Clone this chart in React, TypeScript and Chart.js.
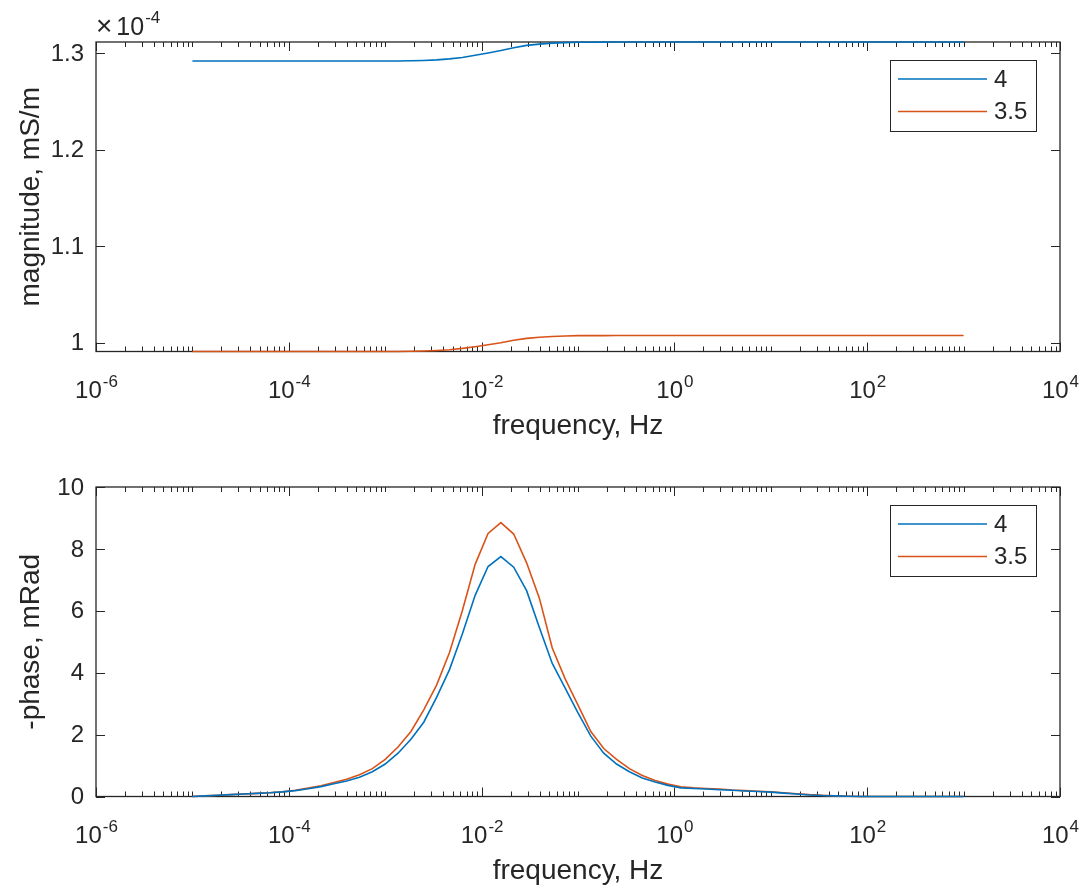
import React, { useEffect, useRef } from 'react';
import { Chart, registerables } from 'chart.js';

Chart.register(...registerables);

// ---------- data ----------
const logFreq = [
  -5.0, -4.867, -4.733, -4.6, -4.467, -4.333, -4.2, -4.067, -3.933, -3.8,
  -3.667, -3.533, -3.4, -3.267, -3.133, -3.0, -2.867, -2.733, -2.6, -2.467,
  -2.333, -2.2, -2.067, -1.933, -1.8, -1.667, -1.533, -1.4, -1.267, -1.133,
  -1.0, -0.867, -0.733, -0.6, -0.467, -0.333, -0.2, -0.067, 0.067, 0.2,
  0.333, 0.467, 0.6, 0.733, 0.867, 1.0, 1.133, 1.267, 1.4, 1.533,
  1.667, 1.8, 1.933, 2.067, 2.2, 2.333, 2.467, 2.6, 2.733, 2.867, 3.0,
];

const seriesLabels = ['4', '3.5'];
const seriesColors = ['#0072BD', '#D95319'];

// magnitude in units of 1e-4 mS/m
const magnitude4 = [
  1.2917, 1.2917, 1.2917, 1.2917, 1.2917, 1.2917, 1.2917, 1.2917, 1.2917, 1.2917,
  1.2917, 1.2917, 1.2917, 1.2917, 1.2917, 1.2917, 1.2917, 1.2919, 1.2923, 1.2929,
  1.2939, 1.2954, 1.2976, 1.3, 1.3025, 1.3055, 1.3079, 1.3092, 1.3102, 1.3108,
  1.3111, 1.3112, 1.3113, 1.3114, 1.3114, 1.3114, 1.3114, 1.3114, 1.3114, 1.3114,
  1.3114, 1.3114, 1.3114, 1.3114, 1.3114, 1.3114, 1.3114, 1.3114, 1.3114, 1.3114,
  1.3114, 1.3114, 1.3114, 1.3114, 1.3114, 1.3114, 1.3114, 1.3114, 1.3114, 1.3114, 1.3114,
];
const magnitude35 = [
  0.9907, 0.9907, 0.9907, 0.9907, 0.9907, 0.9907, 0.9907, 0.9907, 0.9907, 0.9907,
  0.9907, 0.9907, 0.9907, 0.9907, 0.9907, 0.9907, 0.9907, 0.9909, 0.9912, 0.9917,
  0.9925, 0.9939, 0.9957, 0.9977, 0.9998, 1.0023, 1.0043, 1.0055, 1.0063, 1.0068,
  1.0071, 1.0071, 1.0072, 1.0073, 1.0073, 1.0073, 1.0073, 1.0073, 1.0073, 1.0073,
  1.0073, 1.0073, 1.0073, 1.0073, 1.0073, 1.0073, 1.0073, 1.0073, 1.0073, 1.0073,
  1.0073, 1.0073, 1.0073, 1.0073, 1.0073, 1.0073, 1.0073, 1.0073, 1.0073, 1.0073, 1.0073,
];

// -phase in mRad
const phase4 = [
  0.0, 0.02, 0.04, 0.06, 0.08, 0.1, 0.12, 0.15, 0.19, 0.25,
  0.32, 0.41, 0.5, 0.62, 0.8, 1.05, 1.4, 1.85, 2.4, 3.2,
  4.1, 5.25, 6.5, 7.43, 7.75, 7.41, 6.65, 5.45, 4.3, 3.5,
  2.7, 1.95, 1.4, 1.05, 0.8, 0.6, 0.47, 0.36, 0.28, 0.26,
  0.24, 0.22, 0.2, 0.18, 0.16, 0.14, 0.11, 0.08, 0.05, 0.03,
  0.02, 0.01, 0.0, 0.0, 0.0, 0.0, 0.0, 0.0, 0.0, 0.0, 0.0,
];
const phase35 = [
  0.0, 0.02, 0.04, 0.06, 0.08, 0.1, 0.12, 0.15, 0.2, 0.27,
  0.35, 0.45, 0.56, 0.7, 0.9, 1.2, 1.6, 2.1, 2.8, 3.6,
  4.65, 6.0, 7.5, 8.5, 8.85, 8.48, 7.55, 6.4, 4.8, 3.8,
  2.95, 2.1, 1.55, 1.2, 0.9, 0.68, 0.52, 0.4, 0.31, 0.28,
  0.26, 0.24, 0.21, 0.19, 0.17, 0.15, 0.12, 0.09, 0.06, 0.04,
  0.02, 0.01, 0.0, 0.0, 0.0, 0.0, 0.0, 0.0, 0.0, 0.0, 0.0,
];

const xLabelExponents = [-6, -4, -2, 0, 2, 4];
const magTicks = [1, 1.1, 1.2, 1.3];
const magTickLabels = ['1', '1.1', '1.2', '1.3'];
const phaseTicks = [0, 2, 4, 6, 8, 10];
const phaseTickLabels = ['0', '2', '4', '6', '8', '10'];

// ---------- styling ----------
const FONT = '"Liberation Sans", Arial, Helvetica, sans-serif';
const AX = '#262626';
const W = 1085;
const H = 445;

type PanelCfg = {
  yMin: number;
  yMax: number;
  yTicks: number[];
  yTickLabels: string[];
  yTitle: string;
  xTitle: string;
  series: number[][];
  exponentLabel?: string;
};

function makePlugin(cfg: PanelCfg) {
  return {
    id: 'matlabAxes',
    beforeDatasetsDraw(chart: any) {
      const ctx = chart.ctx as CanvasRenderingContext2D;
      const { left, right, top, bottom } = chart.chartArea;
      const xs = chart.scales.x;
      const ys = chart.scales.y;
      ctx.save();
      ctx.strokeStyle = AX;
      ctx.lineWidth = 1.3;
      ctx.strokeRect(left, top, right - left, bottom - top);

      const seg = (x1: number, y1: number, x2: number, y2: number) => {
        ctx.beginPath();
        ctx.moveTo(x1, y1);
        ctx.lineTo(x2, y2);
        ctx.stroke();
      };
      ctx.lineWidth = 1;
      // x ticks (log)
      for (let e = -6; e <= 4; e++) {
        for (let m = 1; m < 10; m++) {
          if (e === 4 && m > 1) break;
          const v = m * Math.pow(10, e);
          const px = Math.round(xs.getPixelForValue(v)) + 0.5;
          const major = m === 1 && xLabelExponents.includes(e);
          const len = major ? 9 : 5;
          seg(px, bottom, px, bottom - len);
          seg(px, top, px, top + len);
        }
      }
      // y ticks
      cfg.yTicks.forEach((v) => {
        const py = Math.round(ys.getPixelForValue(v)) + 0.5;
        seg(left, py, left + 9, py);
        seg(right, py, right - 9, py);
      });

      ctx.fillStyle = AX;
      // y tick labels
      ctx.font = `24px ${FONT}`;
      ctx.textAlign = 'right';
      ctx.textBaseline = 'middle';
      cfg.yTicks.forEach((v, i) => {
        const py = ys.getPixelForValue(v);
        ctx.fillText(cfg.yTickLabels[i], left - 12, py + 1);
      });

      // x tick labels 10^n
      ctx.textBaseline = 'alphabetic';
      ctx.textAlign = 'left';
      xLabelExponents.forEach((e) => {
        const px = xs.getPixelForValue(Math.pow(10, e));
        ctx.font = `24px ${FONT}`;
        const wBase = ctx.measureText('10').width;
        ctx.font = `17px ${FONT}`;
        const expStr = String(e);
        const wExp = ctx.measureText(expStr).width;
        const x0 = px - (wBase + wExp) / 2;
        ctx.font = `24px ${FONT}`;
        ctx.fillText('10', x0, bottom + 46);
        ctx.font = `17px ${FONT}`;
        ctx.fillText(expStr, x0 + wBase + 1, bottom + 35);
      });

      // x title
      ctx.font = `28px ${FONT}`;
      ctx.textAlign = 'center';
      ctx.fillText(cfg.xTitle, (left + right) / 2, bottom + 82);

      // y title
      ctx.save();
      ctx.translate(31, (top + bottom) / 2);
      ctx.rotate(-Math.PI / 2);
      ctx.textBaseline = 'middle';
      ctx.textAlign = 'center';
      ctx.fillText(cfg.yTitle, 0, 0);
      ctx.restore();

      // exponent label
      if (cfg.exponentLabel) {
        ctx.textAlign = 'left';
        ctx.font = `28px ${FONT}`;
        ctx.fillText('\u00d7', left, top - 7);
        const wx = ctx.measureText('\u00d7').width;
        ctx.font = `25px ${FONT}`;
        ctx.fillText('10', left + wx + 4, top - 7);
        const w10 = ctx.measureText('10').width;
        ctx.font = `17px ${FONT}`;
        ctx.fillText(cfg.exponentLabel, left + wx + 4 + w10 + 1, top - 19);
      }
      ctx.restore();
    },
    afterDraw(chart: any) {
      const ctx = chart.ctx as CanvasRenderingContext2D;
      const { top } = chart.chartArea;
      ctx.save();
      const bx = 890.5;
      const by = top + 18.5;
      const bw = 146;
      const bh = 71;
      ctx.fillStyle = '#ffffff';
      ctx.fillRect(bx, by, bw, bh);
      ctx.strokeStyle = AX;
      ctx.lineWidth = 1;
      ctx.strokeRect(bx, by, bw, bh);
      const rows = [top + 37, top + 69.5];
      chart.data.datasets.forEach((ds: any, i: number) => {
        const y = rows[i];
        ctx.strokeStyle = ds.borderColor;
        ctx.lineWidth = 1.5;
        ctx.beginPath();
        ctx.moveTo(898, y);
        ctx.lineTo(987, y);
        ctx.stroke();
        ctx.fillStyle = AX;
        ctx.font = `24px ${FONT}`;
        ctx.textAlign = 'left';
        ctx.textBaseline = 'middle';
        ctx.fillText(ds.label, 994, y + 1);
      });
      ctx.restore();
    },
  };
}

function Panel({ cfg }: { cfg: PanelCfg }) {
  const ref = useRef<HTMLCanvasElement | null>(null);
  useEffect(() => {
    if (!ref.current) return;
    const freqs = logFreq.map((e) => Math.pow(10, e));
    const chart = new Chart(ref.current, {
      type: 'line',
      data: {
        datasets: cfg.series.map((vals, i) => ({
          label: seriesLabels[i],
          data: freqs.map((f, j) => ({ x: f, y: vals[j] })),
          borderColor: seriesColors[i],
          backgroundColor: seriesColors[i],
          borderWidth: 1.6,
          pointRadius: 0,
          tension: 0,
          fill: false,
          clip: false as any,
        })),
      },
      options: {
        responsive: false,
        animation: false,
        devicePixelRatio: 1,
        layout: { padding: { left: 0, right: W - 1060, top: 42, bottom: 0 } },
        plugins: { legend: { display: false }, tooltip: { enabled: false } },
        scales: {
          x: {
            type: 'logarithmic',
            min: 1e-6,
            max: 1e4,
            ticks: { display: false },
            grid: { display: false },
            border: { display: false },
            afterFit: (s: any) => {
              s.height = 93.5;
            },
          },
          y: {
            type: 'linear',
            min: cfg.yMin,
            max: cfg.yMax,
            ticks: { display: false },
            grid: { display: false },
            border: { display: false },
            afterFit: (s: any) => {
              s.width = 96;
            },
          },
        },
      } as any,
      plugins: [makePlugin(cfg) as any],
    });
    return () => chart.destroy();
  }, [cfg]);
  return <canvas ref={ref} width={W} height={H} style={{ display: 'block', width: W, height: H }} />;
}

const topCfg: PanelCfg = {
  yMin: 0.9907,
  yMax: 1.3114,
  yTicks: magTicks,
  yTickLabels: magTickLabels,
  yTitle: 'magnitude, mS/m',
  xTitle: 'frequency, Hz',
  series: [magnitude4, magnitude35],
  exponentLabel: '-4',
};

const bottomCfg: PanelCfg = {
  yMin: 0,
  yMax: 10,
  yTicks: phaseTicks,
  yTickLabels: phaseTickLabels,
  yTitle: '-phase, mRad',
  xTitle: 'frequency, Hz',
  series: [phase4, phase35],
};

export default function App() {
  return (
    <div
      style={{
        position: 'absolute',
        left: 0,
        top: 0,
        width: W,
        height: 890,
        background: '#ffffff',
        overflow: 'hidden',
      }}
    >
      <Panel cfg={topCfg} />
      <Panel cfg={bottomCfg} />
    </div>
  );
}
